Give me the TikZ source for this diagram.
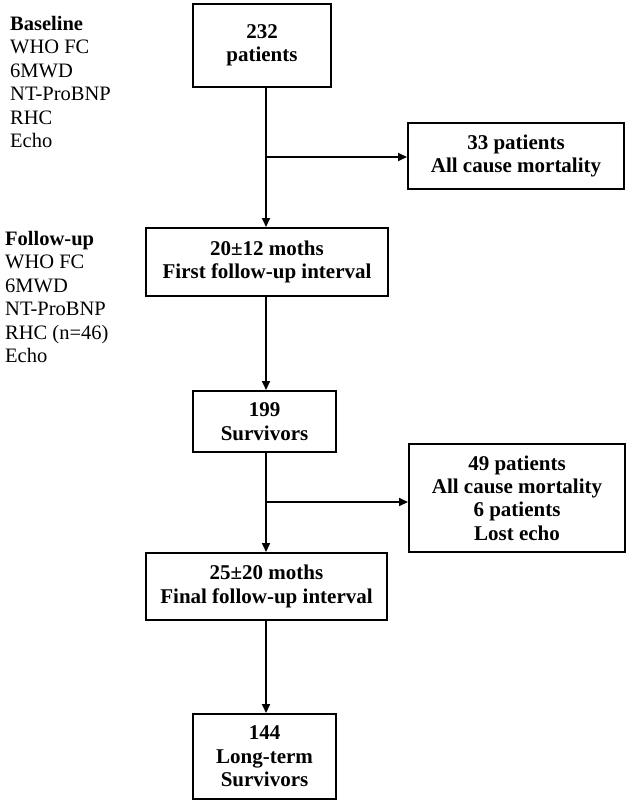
\documentclass[tikz,border=0pt]{standalone}
\usepackage{fontspec}
\setmainfont{Liberation Serif}
\usetikzlibrary{arrows.meta}
\begin{document}
\begin{tikzpicture}[x=1pt,y=-1pt,
  box/.style={draw=black, line width=2pt, fill=white, rectangle, align=center, inner sep=0pt,
    font=\fontsize{21}{23.4}\selectfont\bfseries},
  side/.style={align=left, anchor=north west, inner sep=0pt, font=\fontsize{20.5}{23.4}\selectfont},
  conn/.style={line width=2pt},
  arr/.style={line width=2pt, -{Triangle[length=9pt,width=8pt]}}]
\useasboundingbox (0,0) rectangle (630,805);
% left texts
\node[side] (base) at (10,16) {\textbf{Baseline}\\WHO FC\\6MWD\\NT-ProBNP\\RHC\\Echo};
\node[side] (fol) at (5,231) {\textbf{Follow-up}\\WHO FC\\6MWD\\NT-ProBNP\\RHC (n=46)\\Echo};
% boxes
\node[box, minimum width=138pt, minimum height=83pt] (b1) at (262,45.5) {232\\patients};
\node[box, minimum width=216pt, minimum height=66pt] (b2) at (516,156) {33 patients\\All cause mortality};
\node[box, minimum width=242pt, minimum height=68pt] (b3) at (267,262) {20±12 moths\\First follow-up interval};
\node[box, minimum width=143pt, minimum height=61pt] (b4) at (264.5,421.5) {199\\Survivors};
\node[box, minimum width=216pt, minimum height=108pt] (b5) at (517,498) {49 patients\\All cause mortality\\6 patients\\Lost echo};
\node[box, minimum width=241pt, minimum height=67pt] (b6) at (266.5,586.5) {25±20 moths\\Final follow-up interval};
\node[box, minimum width=143pt, minimum height=85pt] (b7) at (264.5,756.5) {144\\Long-term\\Survivors};
% connectors
\coordinate (j1) at (266,157);
\coordinate (j2) at (266,502);
\draw[arr] (b1.south -| j1) -- (b3.north -| j1);
\draw[arr] (j1) -- (b2.west |- j1);
\draw[arr] (b3.south -| j1) -- (b4.north -| j1);
\draw[arr] (b4.south -| j2) -- (b6.north -| j2);
\draw[arr] (j2) -- (b5.west |- j2);
\draw[arr] (b6.south -| j2) -- (b7.north -| j2);
\end{tikzpicture}
\end{document}
